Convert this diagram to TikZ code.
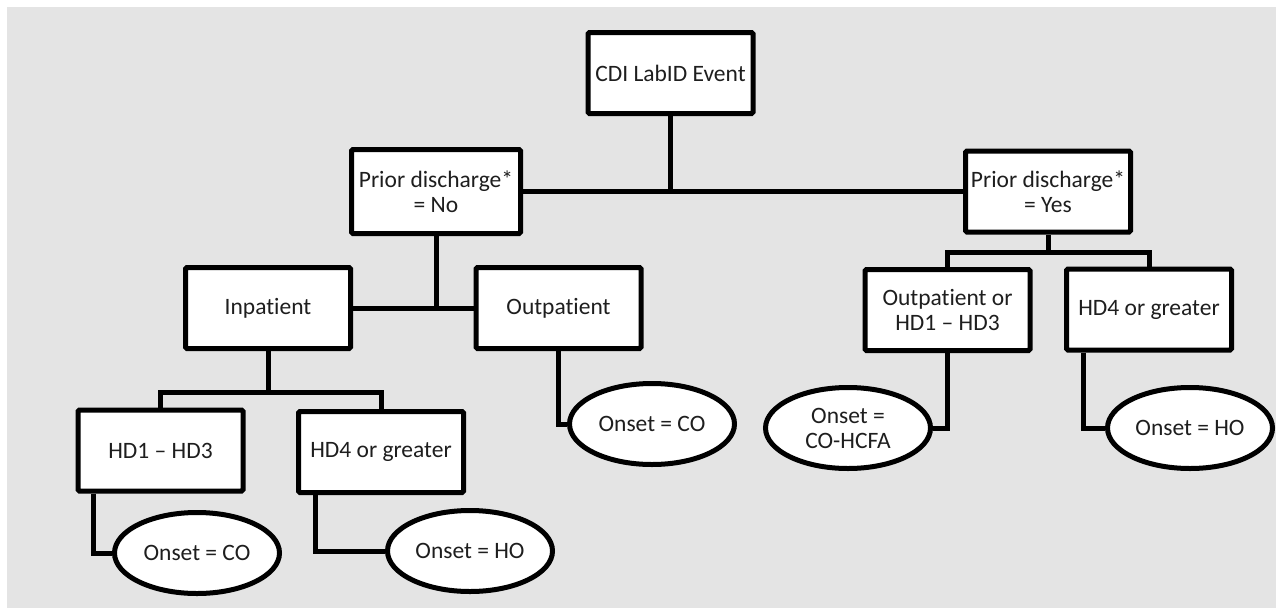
\documentclass[tikz,border=0pt]{standalone}
\usepackage{fontspec}
\setmainfont{Carlito}[Ligatures=NoCommon]
\usetikzlibrary{shapes.geometric}
\definecolor{bg}{RGB}{228,228,228}
\definecolor{txt}{RGB}{30,30,30}
\begin{document}
\begin{tikzpicture}[x=1pt,y=-1pt,
 lbl/.style={align=center,font=\fontsize{23.5}{25}\selectfont,text=txt,inner sep=0pt},
 box/.style={lbl,draw=black,fill=white,line width=5pt,rounded corners=1.5pt,minimum width=165pt,minimum height=81pt},
 oval/.style={lbl,ellipse,draw=black,fill=white,line width=5pt,minimum width=165pt,minimum height=81pt},
 conn/.style={draw=black,line width=5pt,line join=miter}]
\fill[white] (0,0) rectangle (1276,608);
\fill[bg] (7,7) rectangle (1276,608);
\useasboundingbox (0,0) rectangle (1276,608);

\node[box] (cdi) at (670.5,73) {CDI LabID Event};
\node[box,minimum width=169pt,minimum height=84pt] (pno) at (436,191.5) {Prior discharge*\\= No};
\node[box] (pyes) at (1048,191.5) {Prior discharge*\\= Yes};
\node[box] (inp) at (268,308) {Inpatient};
\node[box] (outp) at (558.5,308) {Outpatient};
\node[box] (hd13) at (160.5,450.5) {HD1 – HD3};
\node[box] (hd4l) at (381,452) {HD4 or greater};
\node[box] (outhd) at (947.5,310) {Outpatient or\\HD1 – HD3};
\node[box] (hd4r) at (1149,309.5) {HD4 or greater};

\node[oval] (e1) at (197,553) {Onset = CO};
\node[oval] (e2) at (470,551) {Onset = HO};
\node[oval] (e3) at (652,424) {Onset = CO};
\node[oval] (e4) at (848,428) {Onset =\\CO-HCFA};
\node[oval] (e5) at (1190,428) {Onset = HO};

\coordinate (j1) at (268,392);
\coordinate (j2) at (1048,252);

\draw[conn] (pno.east) -- (pyes.west);
\draw[conn] (cdi.south) -- (cdi.south |- pno.east);
\draw[conn] (inp.east) -- (outp.west);
\draw[conn] (pno.south) -- (pno.south |- inp.east);
\draw[conn] (inp.south) -- (j1);
\draw[conn] (hd13.north) |- (j1) -| (hd4l.north);
\draw[conn] ([xshift=-67.5pt]hd13.south) |- (e1.west);
\draw[conn] ([xshift=-66pt]hd4l.south) |- (e2.west);
\draw[conn] (outp.south) |- (e3.west);
\draw[conn] (pyes.south) -- (j2);
\draw[conn] (outhd.north) |- (j2) -| (hd4r.north);
\draw[conn] (outhd.south) |- (e4.east);
\draw[conn] ([xshift=-66pt]hd4r.south) |- (e5.west);
\end{tikzpicture}
\end{document}
